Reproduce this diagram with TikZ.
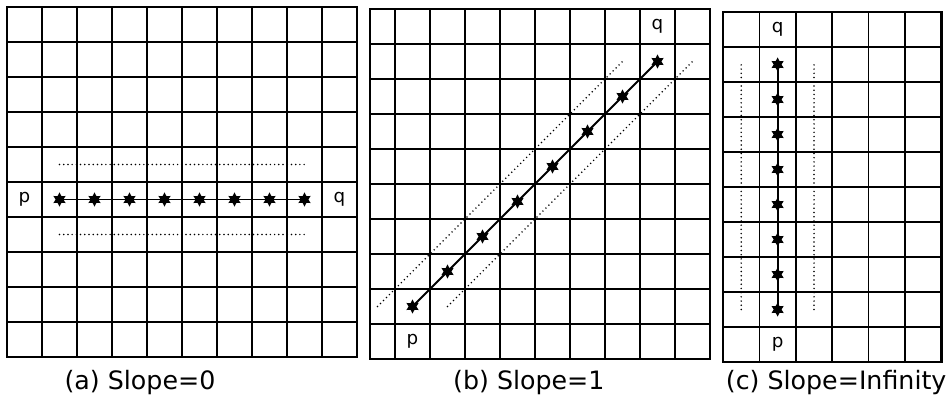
\documentclass[tikz,border=0pt]{standalone}
\usepackage{fontspec}
\setmainfont{DejaVu Sans}
\usetikzlibrary{shapes.geometric}

\begin{document}
\begin{tikzpicture}[x=0.875cm,y=0.875cm,
  cellgrid/.style={line width=1.1pt},
  frame/.style={line width=2pt},
  ptmark/.style={star,star points=6,star point ratio=1.8,fill,inner sep=0pt,minimum size=10pt},
  pathline/.style={line width=1.4pt},
  guide/.style={line width=1.2pt,line cap=round,dash pattern=on 0pt off 3pt},
  lbl/.style={font=\fontsize{13}{15}\selectfont},
  caption/.style={font=\fontsize{18}{20}\selectfont}]
\useasboundingbox (0,0) rectangle (27.171,-11.543);

% (a) slope 0
\begin{scope}[shift={(0.2,-0.2)}]
\foreach \x in {1,...,9} \draw[cellgrid] (\x,0) -- (\x,-10);
\foreach \y in {1,...,9} \draw[cellgrid] (0,-\y) -- (10,-\y);
\draw[frame] (0,0) rectangle (10,-10);
\foreach \i in {1,...,8} \node[ptmark] (a\i) at (\i+0.5,-5.5) {};
\node[lbl] (ap) at (0.5,-5.5) {p};
\node[lbl] (aq) at (9.5,-5.5) {q};
\coordinate (au0) at (1.5,-4.5);
\coordinate (au1) at (8.5,-4.5);
\coordinate (ad0) at (1.5,-6.5);
\coordinate (ad1) at (8.5,-6.5);
\draw[pathline] (a1.center) -- (a8.center);
\draw[guide] (au0) -- (au1);
\draw[guide] (ad0) -- (ad1);
\end{scope}

% (b) slope 1
\begin{scope}[shift={(10.286,-0.257)}]
\foreach \x in {1,...,9} \draw[cellgrid] (\x,0) -- (\x,-10);
\foreach \y in {1,...,9} \draw[cellgrid] (0.286,-\y) -- (10,-\y);
\draw[frame] (0.286,0) rectangle (10,-10);
\foreach \i in {1,...,8} \node[ptmark] (b\i) at (\i+0.5,-9.5+\i) {};
\node[lbl] (bp) at (1.5,-9.5) {p};
\node[lbl] (bq) at (8.5,-0.5) {q};
\coordinate (bu0) at (0.5,-8.5);
\coordinate (bu1) at (7.5,-1.5);
\coordinate (bd0) at (2.5,-8.5);
\coordinate (bd1) at (9.5,-1.5);
\draw[pathline] (b1.center) -- (b8.center);
\draw[guide] (bu0) -- (bu1);
\draw[guide] (bd0) -- (bd1);
\end{scope}

% (c) slope infinity
\begin{scope}[shift={(20.657,-0.343)},xscale=1.04]
\foreach \x in {1,...,5} \draw[cellgrid] (\x,0) -- (\x,-10);
\foreach \y in {1,...,9} \draw[cellgrid] (0,-\y) -- (6,-\y);
\draw[frame] (0,0) rectangle (6,-10);
\foreach \i in {1,...,8} \node[ptmark] (c\i) at (1.5,-9.5+\i) {};
\node[lbl] (cp) at (1.5,-9.5) {p};
\node[lbl] (cq) at (1.5,-0.5) {q};
\coordinate (cl0) at (0.5,-8.5);
\coordinate (cl1) at (0.5,-1.5);
\coordinate (cr0) at (2.5,-8.5);
\coordinate (cr1) at (2.5,-1.5);
\draw[pathline] (c1.center) -- (c8.center);
\draw[guide] (cl0) -- (cl1);
\draw[guide] (cr0) -- (cr1);
\end{scope}

\node[caption] (capa) at (4.0,-10.94) {(a) Slope=0};
\node[caption] (capb) at (15.11,-10.94) {(b) Slope=1};
\node[caption] (capc) at (23.89,-10.94) {(c) Slope=Infinity};
\end{tikzpicture}
\end{document}
